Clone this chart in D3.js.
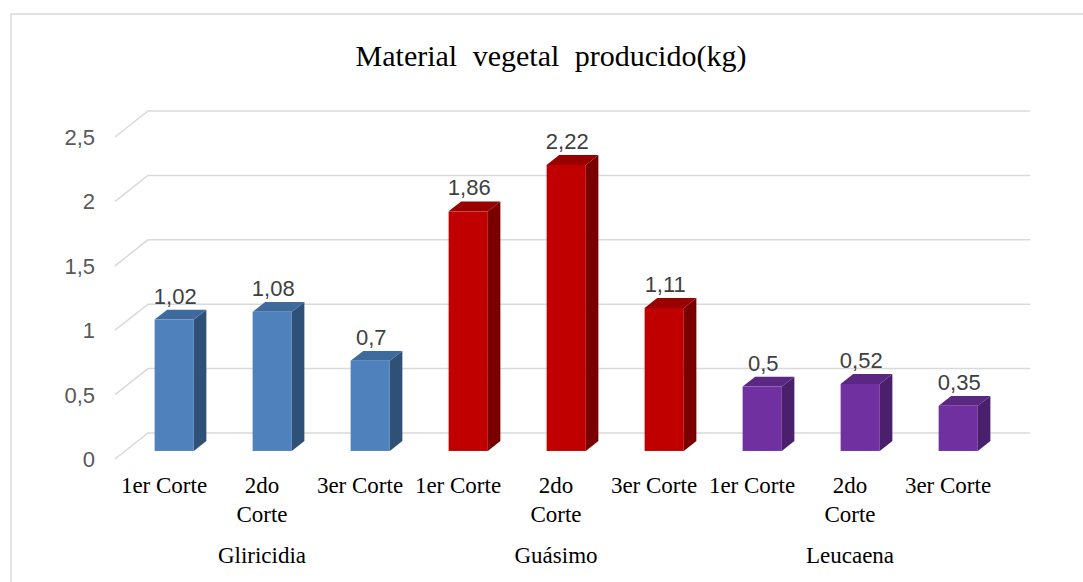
<!DOCTYPE html>
<html>
<head>
<meta charset="utf-8">
<script src="https://cdn.jsdelivr.net/npm/d3@7"></script>
<style>
  body { margin: 0; background: #fff; }
  svg { display: block; }
</style>
</head>
<body>
<div class="content"></div>
<script>
//--> Data
const species = ["Gliricidia", "Guásimo", "Leucaena"];
const cuts = ["1er Corte", "2do Corte", "3er Corte"];
const wrappedCuts = ["2do Corte"];
const gliricidia = [1.02, 1.08, 0.7];
const guasimo = [1.86, 2.22, 1.11];
const leucaena = [0.5, 0.52, 0.35];
const yTicks = [0, 0.5, 1, 1.5, 2, 2.5];

const palette = [
  { front: "#4F81BD", top: "#3F6A9C", side: "#2F5077" },
  { front: "#C00000", top: "#990000", side: "#7A0000" },
  { front: "#7030A0", top: "#5A2783", side: "#4A1F6C" },
];

const rows = [gliricidia, guasimo, leucaena].flatMap((vals, g) =>
  vals.map((v, k) => ({ group: g, cut: cuts[k], value: v, key: `${g}-${k}` }))
);

//--> Set up main elements
const width = 1083;
const height = 582;

// depth of the floor: offset of the front edge relative to the back wall
const depthX = 33;
const depthY = 26;
const barFront = 0.69;
const barBack = 0.31;

const x = d3
  .scaleBand()
  .domain(rows.map(d => d.key))
  .range([148, 1030])
  .paddingInner(0.6)
  .paddingOuter(0.3);

const y = d3.scaleLinear().domain([0, 2.5]).range([433, 111]);

const project = (xb, v, d) => [xb - depthX * d, y(v) + depthY * d];

const svg = d3
  .select(".content")
  .append("svg")
  .attr("width", width)
  .attr("height", height);

//--> Frame
svg
  .append("rect")
  .attr("x", 11)
  .attr("y", 14)
  .attr("width", 1200)
  .attr("height", 700)
  .attr("fill", "none")
  .attr("stroke", "#D9D9D9")
  .attr("stroke-width", 1.5);

//--> Title
svg
  .append("text")
  .attr("x", 551)
  .attr("y", 66)
  .attr("text-anchor", "middle")
  .attr("font-family", "'Liberation Serif', 'Times New Roman', serif")
  .attr("font-size", 30)
  .attr("word-spacing", 8)
  .attr("fill", "#000")
  .text("Material vegetal producido(kg)");

//--> Gridlines
svg
  .append("g")
  .selectAll("path")
  .data(yTicks)
  .join("path")
  .attr("fill", "none")
  .attr("stroke", "#D9D9D9")
  .attr("stroke-width", 1.5)
  .attr("d", t => {
    const a = project(x.range()[0], t, 1);
    const b = project(x.range()[0], t, 0);
    return `M${a}L${b}L${x.range()[1]},${y(t)}`;
  });

//--> Y labels
svg
  .append("g")
  .selectAll("text")
  .data(yTicks)
  .join("text")
  .attr("x", 95)
  .attr("y", t => project(x.range()[0], t, 1)[1])
  .attr("dy", "0.36em")
  .attr("text-anchor", "end")
  .attr("font-family", "'Liberation Sans', Arial, sans-serif")
  .attr("font-size", 22)
  .attr("fill", "#595959")
  .text(t => String(t).replace(".", ","));

//--> Bars
const bars = svg
  .append("g")
  .selectAll("g")
  .data(rows)
  .join("g");

const bw = x.bandwidth();
const dx = depthX * (barFront - barBack);
const dy = depthY * (barFront - barBack);

bars.each(function (d) {
  const g = d3.select(this);
  const c = palette[d.group];
  const [fx, fy] = project(x(d.key), d.value, barFront);
  const fb = project(x(d.key), 0, barFront)[1];

  g.append("path")
    .attr("fill", c.side)
    .attr("d", `M${fx + bw},${fy}L${fx + bw + dx},${fy - dy}L${fx + bw + dx},${fb - dy}L${fx + bw},${fb}Z`);

  g.append("path")
    .attr("fill", c.top)
    .attr("d", `M${fx},${fy}L${fx + dx},${fy - dy}L${fx + bw + dx},${fy - dy}L${fx + bw},${fy}Z`);

  g.append("rect")
    .attr("x", fx)
    .attr("y", fy)
    .attr("width", bw)
    .attr("height", fb - fy)
    .attr("fill", c.front);

  g.append("text")
    .attr("x", fx + bw / 2 + 1)
    .attr("y", fy - dy - 6)
    .attr("text-anchor", "middle")
    .attr("font-family", "'Liberation Sans', Arial, sans-serif")
    .attr("font-size", 22)
    .attr("fill", "#404040")
    .text(String(d.value).replace(".", ","));
});

//--> Category labels
const serif = "'Liberation Serif', 'Times New Roman', serif";

svg
  .append("g")
  .selectAll("text")
  .data(rows)
  .join("text")
  .attr("x", d => x(d.key) + bw / 2 - depthX)
  .attr("y", 493)
  .attr("text-anchor", "middle")
  .attr("font-family", serif)
  .attr("font-size", 23)
  .attr("fill", "#000")
  .each(function (d) {
    const lines = wrappedCuts.includes(d.cut) ? d.cut.split(" ") : [d.cut];
    const cx = d3.select(this).attr("x");
    d3.select(this)
      .selectAll("tspan")
      .data(lines)
      .join("tspan")
      .attr("x", cx)
      .attr("dy", (_, i) => (i ? 29 : 0))
      .text(l => l);
  });

svg
  .append("g")
  .selectAll("text")
  .data(species)
  .join("text")
  .attr("x", (_, g) => x(`${g}-1`) + bw / 2 - depthX)
  .attr("y", 563)
  .attr("text-anchor", "middle")
  .attr("font-family", serif)
  .attr("font-size", 23)
  .attr("fill", "#000")
  .text(d => d);
</script>
</body>
</html>
